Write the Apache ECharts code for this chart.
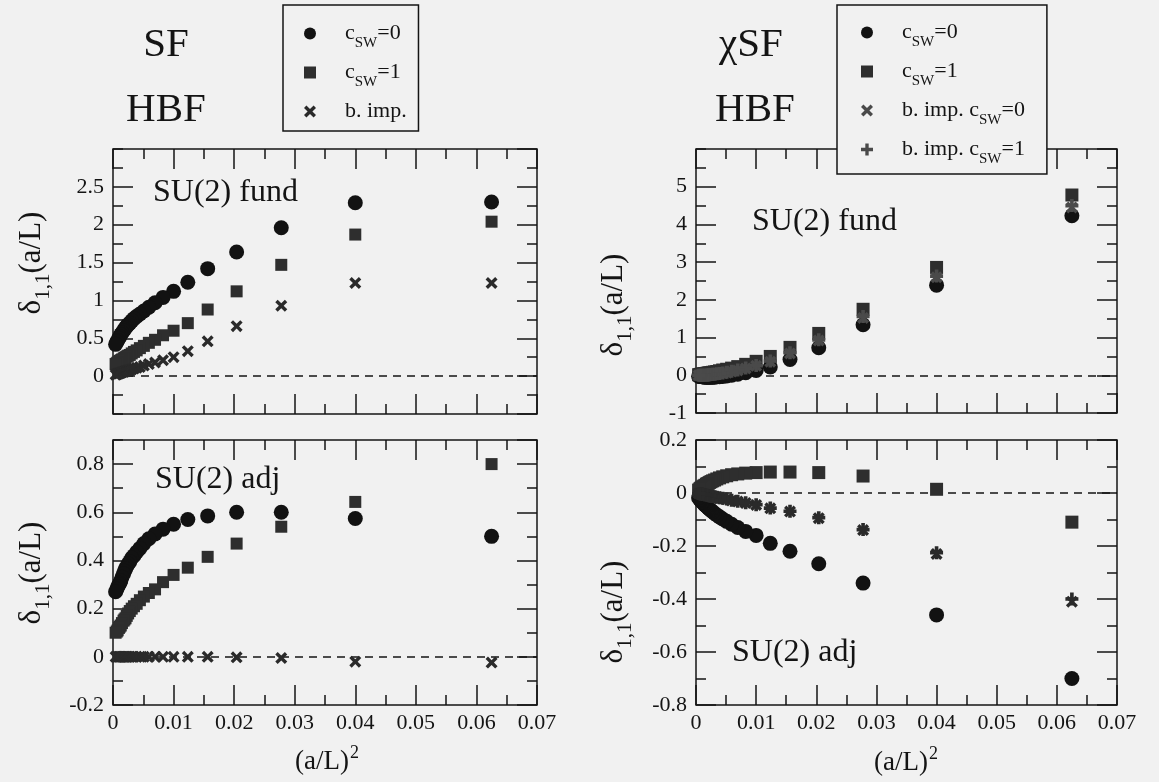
<!DOCTYPE html>
<html>
<head>
<meta charset="utf-8">
<script src="https://cdn.jsdelivr.net/npm/echarts@6/dist/echarts.min.js"></script>
<style>
html,body{margin:0;padding:0;background:#f1f1f1;}
#chart{width:1159px;height:782px;}
</style>
</head>
<body>
<div id="chart"></div>
<script>
// ---------------- data ----------------
// (a/L)^2 values of the lattice sizes
const xValues = [0.0625, 0.04, 0.02778, 0.02041, 0.01563, 0.01235, 0.01, 0.00826, 0.00694, 0.00592, 0.0051, 0.00444, 0.00391, 0.00346, 0.00309, 0.00277, 0.0025, 0.00227, 0.00207, 0.00189, 0.00174, 0.00148, 0.00128, 0.00111, 0.00098, 0.00077, 0.000625, 0.00043];

// SF, SU(2) fund
const sfFundC0  = [2.30, 2.29, 1.96, 1.64, 1.42, 1.24, 1.12, 1.04, 0.97, 0.91, 0.86, 0.82, 0.79, 0.76, 0.73, 0.70, 0.68, 0.66, 0.64, 0.62, 0.60, 0.57, 0.55, 0.52, 0.50, 0.47, 0.45, 0.42];
const sfFundC1  = [2.04, 1.87, 1.47, 1.12, 0.88, 0.70, 0.60, 0.54, 0.48, 0.44, 0.40, 0.37, 0.34, 0.32, 0.30, 0.28, 0.27, 0.26, 0.25, 0.24, 0.23, 0.22, 0.21, 0.20, 0.19, 0.18, 0.17, 0.16];
const sfFundImp = [1.23, 1.23, 0.93, 0.66, 0.46, 0.33, 0.25, 0.21, 0.18, 0.16, 0.14, 0.12, 0.11, 0.10, 0.09, 0.08, 0.075, 0.07, 0.065, 0.06, 0.055, 0.05, 0.045, 0.04, 0.035, 0.03, 0.025, 0.02];

// SF, SU(2) adj
const sfAdjC0  = [0.50, 0.574, 0.60, 0.60, 0.585, 0.57, 0.55, 0.53, 0.51, 0.49, 0.47, 0.45, 0.435, 0.42, 0.41, 0.395, 0.385, 0.375, 0.365, 0.355, 0.345, 0.33, 0.315, 0.305, 0.30, 0.29, 0.28, 0.27];
const sfAdjC1  = [0.80, 0.643, 0.54, 0.47, 0.415, 0.37, 0.34, 0.31, 0.28, 0.265, 0.25, 0.235, 0.22, 0.21, 0.20, 0.19, 0.18, 0.17, 0.16, 0.155, 0.15, 0.14, 0.13, 0.125, 0.12, 0.11, 0.105, 0.10];
const sfAdjImp = [-0.024, -0.020, -0.005, -0.002, 0, 0, 0, 0, 0, 0, 0, 0, 0, 0, 0, 0, 0, 0, 0, 0, 0, 0, 0, 0, 0, 0, 0, 0];

// chiSF, SU(2) fund
const chiFundC0   = [4.23, 2.39, 1.34, 0.73, 0.42, 0.22, 0.13, 0.07, 0.03, 0.00, -0.02, -0.03, -0.04, -0.04, -0.05, -0.05, -0.05, -0.05, -0.05, -0.05, -0.05, -0.05, -0.045, -0.04, -0.04, -0.035, -0.03, -0.025];
const chiFundC1   = [4.78, 2.86, 1.75, 1.11, 0.74, 0.50, 0.37, 0.29, 0.23, 0.19, 0.16, 0.14, 0.12, 0.10, 0.09, 0.08, 0.07, 0.065, 0.06, 0.055, 0.05, 0.045, 0.04, 0.035, 0.03, 0.025, 0.02, 0.015];
const chiFundImp0 = [4.45, 2.60, 1.52, 0.92, 0.58, 0.36, 0.25, 0.18, 0.13, 0.10, 0.07, 0.055, 0.045, 0.035, 0.025, 0.02, 0.015, 0.01, 0.01, 0.005, 0, 0, 0, 0, 0, 0, 0, 0];
const chiFundImp1 = [4.50, 2.63, 1.56, 0.94, 0.60, 0.38, 0.26, 0.19, 0.14, 0.11, 0.08, 0.06, 0.05, 0.04, 0.03, 0.025, 0.02, 0.015, 0.01, 0.01, 0.005, 0, 0, 0, 0, 0, 0, 0];

// chiSF, SU(2) adj
const chiAdjC0   = [-0.70, -0.46, -0.34, -0.267, -0.22, -0.19, -0.16, -0.145, -0.13, -0.118, -0.107, -0.098, -0.09, -0.083, -0.077, -0.071, -0.066, -0.061, -0.057, -0.053, -0.050, -0.045, -0.040, -0.036, -0.033, -0.028, -0.024, -0.018];
const chiAdjC1   = [-0.11, 0.014, 0.064, 0.077, 0.079, 0.079, 0.077, 0.075, 0.072, 0.069, 0.065, 0.061, 0.057, 0.053, 0.049, 0.046, 0.043, 0.040, 0.037, 0.035, 0.033, 0.029, 0.026, 0.023, 0.021, 0.018, 0.015, 0.011];
const chiAdjImp0 = [-0.41, -0.23, -0.14, -0.095, -0.07, -0.058, -0.045, -0.038, -0.032, -0.028, -0.024, -0.021, -0.019, -0.017, -0.015, -0.013, -0.012, -0.011, -0.010, -0.009, -0.008, -0.007, -0.006, -0.005, -0.005, -0.004, -0.003, -0.002];
const chiAdjImp1 = [-0.40, -0.225, -0.138, -0.093, -0.069, -0.057, -0.044, -0.037, -0.031, -0.027, -0.023, -0.020, -0.018, -0.016, -0.014, -0.013, -0.012, -0.011, -0.010, -0.009, -0.008, -0.007, -0.006, -0.005, -0.004, -0.004, -0.003, -0.002];

// axis ranges [min, max, major step, minor step]
const xRange        = [0, 0.07, 0.01, 0.005];
const sfFundYRange  = [-0.5, 3, 0.5, 0.25];
const sfAdjYRange   = [-0.2, 0.9, 0.2, 0.1];
const chiFundYRange = [-1, 6, 1, 0.5];
const chiAdjYRange  = [-0.8, 0.2, 0.2, 0.1];

// legend labels
const legendLabels = {
  c0: '{cf|c}{s|SW}{t|=0}',
  c1: '{cf|c}{s|SW}{t|=1}',
  bimp: '{tf|b. imp.}{s| }',
  bimp0: '{tf|b. imp. c}{s|SW}{t|=0}',
  bimp1: '{tf|b. imp. c}{s|SW}{t|=1}'
};

// ---------------- style ----------------
const FONT = "'Liberation Serif','Times New Roman',serif";
const INK = '#141414';
const BG = '#f1f1f1';
const CROSS = 'path://M0,2L2,0L5,3L8,0L10,2L7,5L10,8L8,10L5,7L2,10L0,8L3,5Z';
const PLUS = 'path://M3.6,0H6.4V3.6H10V6.4H6.4V10H3.6V6.4H0V3.6H3.6Z';

const grids = [
  {left: 113, top: 149, width: 424, height: 265},
  {left: 113, top: 440, width: 424, height: 265},
  {left: 696, top: 149, width: 421, height: 264},
  {left: 696, top: 440, width: 421, height: 265}
];

const xAxes = [], yAxes = [];
function tick(len) {
  return {show: true, inside: true, length: len, lineStyle: {color: INK, width: 1.5}};
}
function baseAxis(g) {
  return {gridIndex: g, type: 'value', axisLine: {show: false, onZero: false}, splitLine: {show: false},
          minorTick: {show: false}, minorSplitLine: {show: false}, silent: true};
}
function addAxes(g, yr, showX, showMinY, showMaxY) {
  const xi = xAxes.length, yi = yAxes.length;
  xAxes.push(Object.assign(baseAxis(g), {position: 'bottom', min: xRange[0], max: xRange[1], interval: xRange[2], axisTick: tick(20),
    axisLabel: {show: showX, margin: 7, fontSize: 22, fontFamily: FONT, color: INK, showMinLabel: true, showMaxLabel: true,
      formatter: v => (Math.abs(v) < 1e-9 ? '0' : v.toFixed(2))}}));
  xAxes.push(Object.assign(baseAxis(g), {position: 'bottom', min: xRange[0], max: xRange[1], interval: xRange[3], axisTick: tick(10), axisLabel: {show: false}}));
  xAxes.push(Object.assign(baseAxis(g), {position: 'top', min: xRange[0], max: xRange[1], interval: xRange[2], axisTick: tick(20), axisLabel: {show: false}}));
  xAxes.push(Object.assign(baseAxis(g), {position: 'top', min: xRange[0], max: xRange[1], interval: xRange[3], axisTick: tick(10), axisLabel: {show: false}}));
  yAxes.push(Object.assign(baseAxis(g), {position: 'left', min: yr[0], max: yr[1], interval: yr[2], axisTick: tick(20),
    axisLabel: {show: true, margin: 9, fontSize: 22, fontFamily: FONT, color: INK, showMinLabel: showMinY, showMaxLabel: showMaxY,
      formatter: v => String(+(+v).toFixed(2))}}));
  yAxes.push(Object.assign(baseAxis(g), {position: 'left', min: yr[0], max: yr[1], interval: yr[3], axisTick: tick(10), axisLabel: {show: false}}));
  yAxes.push(Object.assign(baseAxis(g), {position: 'right', min: yr[0], max: yr[1], interval: yr[2], axisTick: tick(20), axisLabel: {show: false}}));
  yAxes.push(Object.assign(baseAxis(g), {position: 'right', min: yr[0], max: yr[1], interval: yr[3], axisTick: tick(10), axisLabel: {show: false}}));
  return {x: xi, y: yi};
}

const axTL = addAxes(0, sfFundYRange, false, false, false);
const axBL = addAxes(1, sfAdjYRange, true, true, false);
const axTR = addAxes(2, chiFundYRange, false, true, false);
const axBR = addAxes(3, chiAdjYRange, true, true, true);

function pts(arr) { return xValues.map((x, i) => [x, arr[i]]); }
function scatter(name, ax, arr, symbol, size, color, zeroLine) {
  const s = {
    name: name, type: 'scatter', xAxisIndex: ax.x, yAxisIndex: ax.y,
    data: pts(arr), symbol: symbol, symbolSize: size,
    itemStyle: {color: color, opacity: 1}, emphasis: {disabled: true}, silent: true, z: 3
  };
  if (zeroLine) {
    s.markLine = {silent: true, symbol: ['none', 'none'], label: {show: false}, animation: false,
      lineStyle: {type: [8, 6], color: INK, width: 1.5}, data: [{yAxis: 0}], z: 2};
  }
  return s;
}

const C_DOT = '#121212', C_SQ = '#2e2e2e', C_X = '#2a2a2a', C_PLUS = '#4a4a4a';
const series = [
  scatter('c0', axTL, sfFundC0, 'circle', 15, C_DOT, true),
  scatter('c1', axTL, sfFundC1, 'rect', 12, C_SQ),
  scatter('bimp', axTL, sfFundImp, CROSS, 12, C_X),
  scatter('c0', axBL, sfAdjC0, 'circle', 15, C_DOT, true),
  scatter('c1', axBL, sfAdjC1, 'rect', 12, C_SQ),
  scatter('bimp', axBL, sfAdjImp, CROSS, 12, C_X),
  scatter('c0', axTR, chiFundC0, 'circle', 15, C_DOT, true),
  scatter('c1', axTR, chiFundC1, 'rect', 13, C_SQ),
  scatter('bimp0', axTR, chiFundImp0, CROSS, 12, C_PLUS),
  scatter('bimp1', axTR, chiFundImp1, PLUS, 13, C_PLUS),
  scatter('c0', axBR, chiAdjC0, 'circle', 15, C_DOT, true),
  scatter('c1', axBR, chiAdjC1, 'rect', 13, C_SQ),
  scatter('bimp0', axBR, chiAdjImp0, CROSS, 12, C_X),
  scatter('bimp1', axBR, chiAdjImp1, PLUS, 13, C_X)
];

const legendRich = {
  t:  {fontSize: 22, fontFamily: FONT, color: INK, lineHeight: 26},
  tf: {fontSize: 22, fontFamily: FONT, color: INK, lineHeight: 26, padding: [0, 0, 0, 24]},
  cf: {fontSize: 22, fontFamily: FONT, color: INK, lineHeight: 26, padding: [0, 0, 0, 24]},
  s:  {fontSize: 15, fontFamily: FONT, color: INK, lineHeight: 6, padding: [20, 0, 0, 0]}
};
function legendCfg(left, names, padding, gap) {
  return {
    left: left, top: 5, orient: 'vertical', data: names, selectedMode: false,
    itemWidth: 12, itemHeight: 12, itemGap: gap, padding: padding,
    borderColor: INK, borderWidth: 1.5, backgroundColor: BG, z: 10,
    formatter: n => legendLabels[n],
    textStyle: {fontSize: 22, fontFamily: FONT, color: INK, rich: legendRich}
  };
}

function label(x, y, text, size, align) {
  return {type: 'text', x: x, y: y, z: 20, silent: true,
    style: {text: text, fontSize: size, fontFamily: FONT, fill: INK, align: align || 'center', verticalAlign: 'middle'}};
}
function yTitle(x, y) {
  return {type: 'text', x: x, y: y, rotation: Math.PI / 2, z: 20, silent: true,
    style: {text: '{a|δ}{s|1,1}{a|(a/L)}', align: 'center', verticalAlign: 'middle',
      rich: {a: {fontSize: 31, fontFamily: FONT, fill: INK, lineHeight: 38},
             s: {fontSize: 21, fontFamily: FONT, fill: INK, lineHeight: 8, padding: [22, 0, 0, 0]}}}};
}
function xTitle(x, y) {
  return {type: 'text', x: x, y: y, z: 20, silent: true,
    style: {text: '{a|(a/L)}{p|2}', align: 'center', verticalAlign: 'middle',
      rich: {a: {fontSize: 27, fontFamily: FONT, fill: INK, lineHeight: 34},
             p: {fontSize: 18, fontFamily: FONT, fill: INK, lineHeight: 34, padding: [0, 0, 18, 1]}}}};
}

const option = {
  backgroundColor: BG,
  animation: false,
  grid: grids.map(g => Object.assign({show: true, borderColor: INK, borderWidth: 1.5, backgroundColor: 'transparent', containLabel: false}, g)),
  xAxis: xAxes,
  yAxis: yAxes,
  legend: [
    legendCfg(283, ['c0', 'c1', 'bimp'], [11, 8, 2, 21], 4),
    legendCfg(837, ['c0', 'c1', 'bimp0', 'bimp1'], [10, 22, 7, 24], 4)
  ],
  tooltip: {show: false},
  series: series,
  graphic: [
    label(166, 45, 'SF', 41),
    label(166, 110, 'HBF', 41),
    label(751, 45, 'χSF', 41),
    label(755, 110, 'HBF', 41),
    label(153, 193, 'SU(2) fund', 32, 'left'),
    label(155, 480, 'SU(2) adj', 32, 'left'),
    label(752, 222, 'SU(2) fund', 32, 'left'),
    label(732, 653, 'SU(2) adj', 32, 'left'),
    yTitle(32, 263),
    yTitle(32, 573),
    yTitle(614, 305),
    yTitle(614, 612),
    xTitle(327, 762),
    xTitle(906, 763)
  ]
};

const chart = echarts.init(document.getElementById('chart'), null, {renderer: 'canvas'});
chart.setOption(option);
</script>
</body>
</html>
